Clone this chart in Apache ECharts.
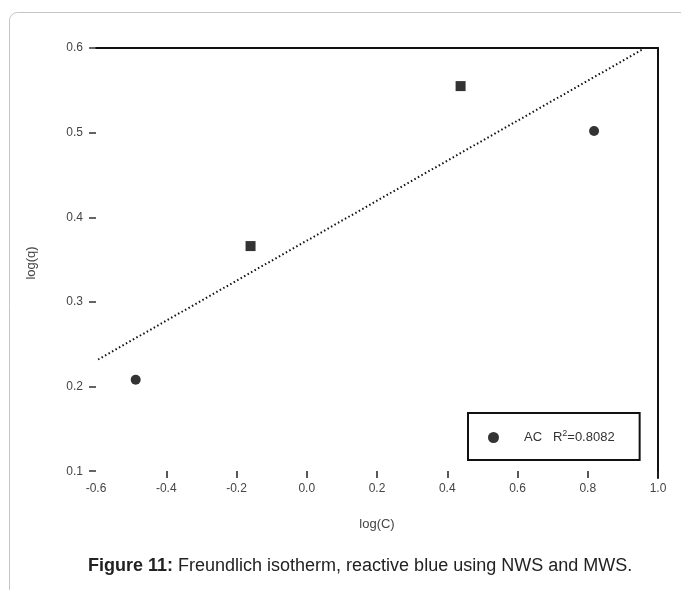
<!DOCTYPE html>
<html>
<head>
<meta charset="utf-8">
<script src="https://cdn.jsdelivr.net/npm/echarts@6/dist/echarts.min.js"></script>
<style>
  html, body { margin: 0; padding: 0; background: #fff; }
  #chart { width: 681px; height: 590px; }
</style>
</head>
<body>
<div id="chart"></div>
<script>
// data
const xTicks = [-0.6, -0.4, -0.2, 0.0, 0.2, 0.4, 0.6, 0.8, 1.0];
const yTicks = [0.1, 0.2, 0.3, 0.4, 0.5, 0.6];
const circlePoints = [[-0.487, 0.208], [0.818, 0.502]];
const squarePoints = [[-0.160, 0.366], [0.438, 0.555]];
const fitLine = [[-0.594, 0.232], [0.955, 0.598]];
const legendName = "AC";
const legendText = "AC   R{s|2}=0.8082";

const chart = echarts.init(document.getElementById("chart"));

chart.setOption({
  animation: false,
  grid: { left: 96, right: 23, top: 48, bottom: 112 },
  graphic: [
    {
      type: "rect",
      shape: { x: 9.5, y: 12.5, width: 700, height: 620, r: 8 },
      style: { fill: "none", stroke: "#c4c4c4", lineWidth: 1 },
      silent: true
    },
    {
      type: "text",
      left: 88,
      top: 557,
      style: {
        text: "{b|Figure 11:} Freundlich isotherm, reactive blue using NWS and MWS.",
        font: "18px 'Liberation Sans', Arial, sans-serif",
        fill: "#222",
        rich: {
          b: { fontWeight: "bold", fontSize: 18, fontFamily: "Liberation Sans", fill: "#222" }
        }
      }
    }
  ],
  legend: {
    data: [legendName],
    left: 468,
    top: 413,
    orient: "vertical",
    borderColor: "#111",
    borderWidth: 2,
    padding: [16, 25, 16, 20],
    itemWidth: 11,
    itemHeight: 11,
    icon: "circle",
    formatter: () => legendText,
    textStyle: {
      fontSize: 13,
      color: "#333",
      fontFamily: "Liberation Sans",
      padding: [0, 0, 0, 20],
      rich: {
        s: { fontSize: 9, verticalAlign: "top", padding: [0, 0, 8, 0], color: "#333" }
      }
    }
  },
  xAxis: [
    {
      type: "value",
      min: -0.6,
      max: 1.0,
      name: "log(C)",
      nameLocation: "middle",
      nameGap: 40,
      nameTextStyle: { fontSize: 13, color: "#444", fontFamily: "Liberation Sans" },
      axisLine: { show: false, onZero: false },
      axisTick: { show: true, inside: true, length: 7, customValues: xTicks.slice(1), lineStyle: { color: "#222", width: 1.5 } },
      axisLabel: {
        customValues: xTicks,
        margin: 5,
        fontSize: 12,
        color: "#444",
        fontFamily: "Liberation Sans",
        formatter: v => v.toFixed(1)
      },
      splitLine: { show: false }
    },
    {
      type: "value",
      position: "top",
      min: -0.6,
      max: 1.0,
      axisLine: { show: true, onZero: false, lineStyle: { color: "#111", width: 2 } },
      axisTick: { show: false },
      axisLabel: { show: false },
      splitLine: { show: false }
    }
  ],
  yAxis: [
    {
      type: "value",
      min: 0.092,
      max: 0.6,
      name: "log(q)",
      nameLocation: "middle",
      nameGap: 58,
      nameRotate: 90,
      nameTextStyle: { fontSize: 13, color: "#444", fontFamily: "Liberation Sans" },
      axisLine: { show: false, onZero: false },
      axisTick: { show: true, length: 7, customValues: yTicks, lineStyle: { color: "#333", width: 1.5 } },
      axisLabel: {
        customValues: yTicks,
        margin: 13,
        fontSize: 12,
        color: "#444",
        fontFamily: "Liberation Sans",
        formatter: v => v.toFixed(1)
      },
      splitLine: { show: false }
    },
    {
      type: "value",
      position: "right",
      min: 0.092,
      max: 0.6,
      axisLine: { show: true, onZero: false, lineStyle: { color: "#111", width: 2 } },
      axisTick: { show: false },
      axisLabel: { show: false },
      splitLine: { show: false }
    }
  ],
  series: [
    {
      name: legendName,
      type: "scatter",
      symbol: "circle",
      symbolSize: 10,
      itemStyle: { color: "#000" },
      data: circlePoints
    },
    {
      name: "squares",
      type: "scatter",
      symbol: "rect",
      symbolSize: 10,
      itemStyle: { color: "#000" },
      data: squarePoints
    },
    {
      name: "fit",
      type: "line",
      symbol: "none",
      lineStyle: { color: "#111", width: 2, type: [1.5, 2.5] },
      data: fitLine
    }
  ]
});
</script>
</body>
</html>
